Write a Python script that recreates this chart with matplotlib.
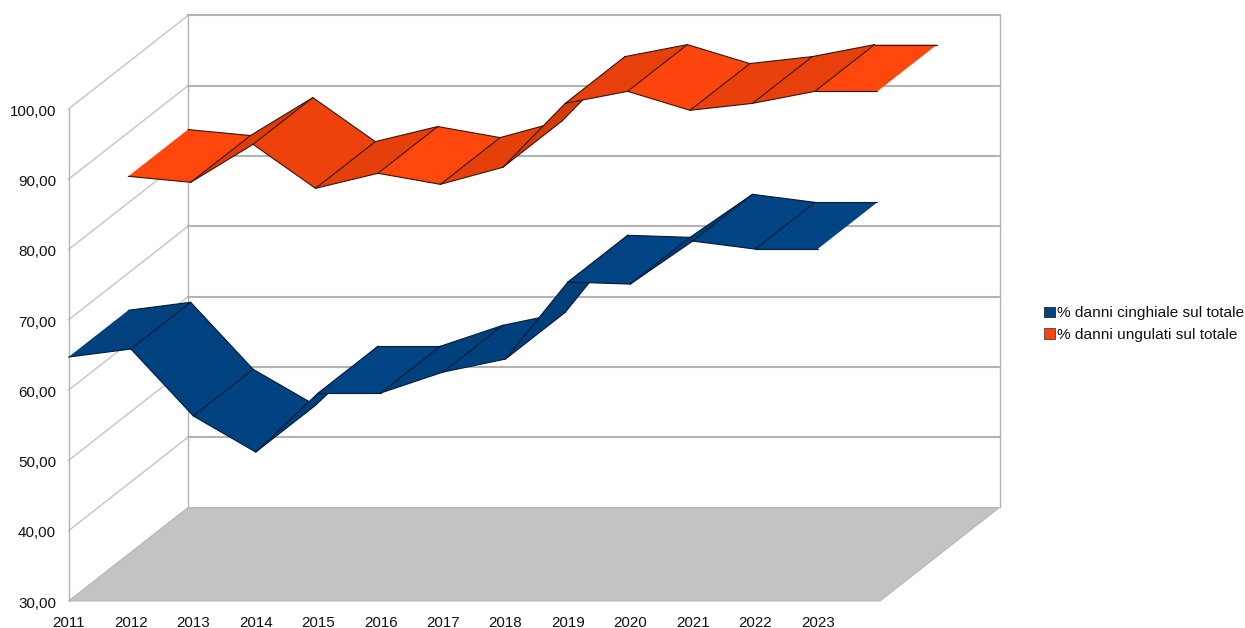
import matplotlib
matplotlib.use("Agg")
import matplotlib.pyplot as plt
from matplotlib.patches import Patch, Polygon
from matplotlib.colors import to_rgb
from matplotlib.transforms import ScaledTranslation

plt.rcParams['font.family'] = ['Liberation Sans', 'DejaVu Sans']

years = [2011, 2012, 2013, 2014, 2015, 2016, 2017, 2018, 2019, 2020, 2021, 2022, 2023]
cinghiale = [64.71, 65.85, 56.32, 51.19, 59.59, 59.59, 62.57, 64.42, 75.38, 75.09, 81.21, 80.07, 80.07]
ungulati = [83.77, 82.92, 88.32, 82.06, 84.20, 82.63, 85.05, 94.15, 95.86, 93.16, 94.15, 95.86, 95.86]
value_ticks = [30, 40, 50, 60, 70, 80, 90, 100]
series_names = ['% danni cinghiale sul totale', '% danni ungulati sul totale']

W, H = 1245, 628
fig = plt.figure(figsize=(W / 100, H / 100), dpi=100, facecolor='white')
ax = fig.add_axes([68.5 / W, (H - 601) / H, (880 - 68.5) / W, 492 / H])
ax.set_xlim(0, 13)
ax.set_ylim(30, 100)
ax.patch.set_alpha(0)
for s in ax.spines.values():
    s.set_visible(False)

PX_X = (880 - 68.5) / 13
PX_Y = 492 / 70
DX = 119.5 / PX_X   # full depth shift, in category units
DY = 93.5 / PX_Y    # full depth shift, in value units


def proj(i, v, d):
    return (i + d * DX, v + d * DY)


GRID = '#b3b3b3'
x_end = len(years)

# floor
ax.add_patch(Polygon([proj(0, 30, 0), proj(x_end, 30, 0), proj(x_end, 30, 1), proj(0, 30, 1)],
                     closed=True, fc='#c3c3c3', ec=GRID, lw=0.7, clip_on=False, zorder=1))
# walls and grid
for v in value_ticks[1:]:
    a, b, c = proj(0, v, 0), proj(0, v, 1), proj(x_end, v, 1)
    ax.plot([a[0], b[0]], [a[1], b[1]], color='#c4c4c4', lw=1.0, clip_on=False, zorder=2)
    ax.plot([b[0], c[0]], [b[1], c[1]], color=GRID, lw=1.5, clip_on=False, zorder=2)
for (i, d) in [(0, 0), (0, 1), (x_end, 1)]:
    p, q = proj(i, 30, d), proj(i, 100, d)
    ax.plot([p[0], q[0]], [p[1], q[1]], color=GRID, lw=1.0, clip_on=False, zorder=2)


def shade(base, slope, strength):
    if slope > 0:
        f = 1 - 0.07 - 0.10 * min(1.0, slope / 0.8)
    else:
        f = 1 - 0.07 * min(1.0, (slope / 0.7) ** 2)
    f = 1 - strength * (1 - f)
    return tuple(c * f for c in to_rgb(base))


def ribbon(values, d0, d1, base, edge, z, strength):
    for i in range(len(values) - 1):
        v0, v1 = values[i], values[i + 1]
        pts = [proj(i, v0, d0), proj(i + 1, v1, d0), proj(i + 1, v1, d1), proj(i, v0, d1)]
        slope = (v1 - v0) * PX_Y / PX_X
        ax.add_patch(Polygon(pts, closed=True, fc=shade(base, slope, strength), ec='none',
                             clip_on=False, zorder=z + i * 0.01))
        segs = [(pts[0], pts[1]), (pts[3], pts[2])]
        if i > 0:
            segs.append((pts[0], pts[3]))
        for p, q in segs:
            ax.plot([p[0], q[0]], [p[1], q[1]], color=edge, lw=0.8, clip_on=False,
                    solid_capstyle='round', zorder=z + i * 0.01 + 0.001)


ribbon(ungulati, 0.5, 1.0, '#ff470d', '#3a1408', 3, 1.0)
ribbon(cinghiale, 0.0, 0.5, '#004483', '#001a38', 4, 0.45)

# ticks
ax.set_xticks(range(len(years)))
ax.set_xticklabels([str(y) for y in years], fontsize=10.9, color='#111111')
ax.set_yticks(value_ticks)
ax.set_yticklabels([f'{v},00' for v in value_ticks], fontsize=10.9, color='#111111')
ax.tick_params(axis='both', length=0)
ax.tick_params(axis='x', pad=10.8)
ax.tick_params(axis='y', pad=9)
down = ScaledTranslation(0, -1.2 / 100, fig.dpi_scale_trans)
for lab in ax.get_yticklabels():
    lab.set_transform(lab.get_transform() + down)

# legend
handles = [Patch(fc='#004586', ec='#222222', lw=0.6), Patch(fc='#ff420e', ec='#444444', lw=0.6)]
fig.legend(handles, series_names, loc='center left', bbox_to_anchor=(1041 / W, 1 - 324 / H),
           frameon=False, fontsize=11.05, handlelength=0.72, handleheight=0.68,
           handletextpad=0.15, labelspacing=0.5, borderpad=0.2, borderaxespad=0,
           labelcolor='#111111')

fig.savefig('out.png', dpi=100, facecolor='white')
